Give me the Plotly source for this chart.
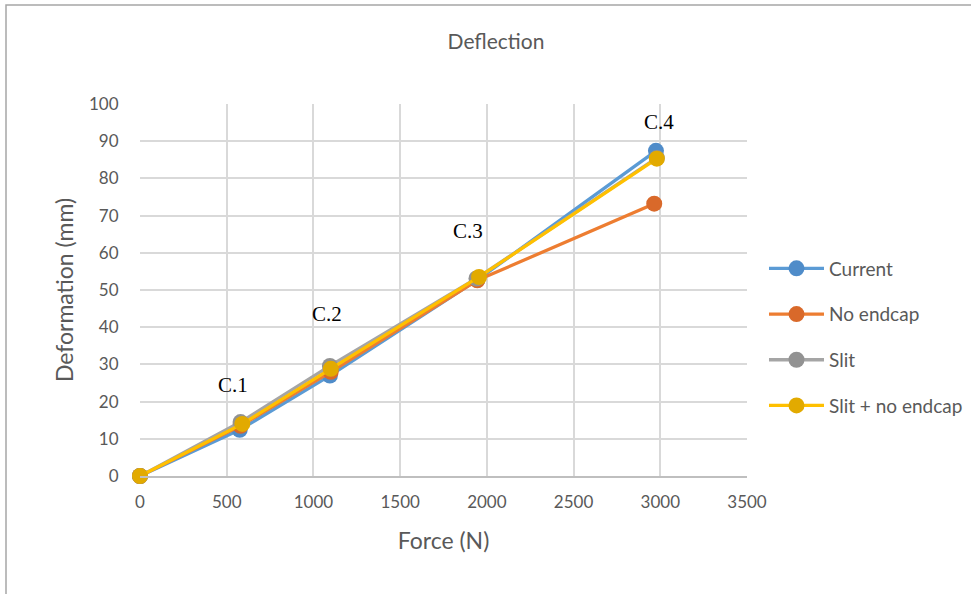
import plotly.graph_objects as go

# Load step force (N) and measured deformation (mm) per configuration
force_current = [0, 575, 1095, 1945, 2975]
defl_current = [0, 12.4, 27.0, 52.7, 87.4]

force_no_endcap = [0, 580, 1100, 1945, 2965]
defl_no_endcap = [0, 13.5, 28.0, 52.6, 73.2]

force_slit = [0, 580, 1095, 1940, 2980]
defl_slit = [0, 14.5, 29.6, 53.1, 85.5]

force_slit_no_endcap = [0, 590, 1100, 1955, 2980]
defl_slit_no_endcap = [0, 14.0, 28.8, 53.5, 85.3]

series_names = ["Current", "No endcap", "Slit", "Slit + no endcap"]
line_colors = ["#5b9bd5", "#ed7d31", "#a5a5a5", "#ffc000"]
marker_colors = ["#4f8cc9", "#d9692a", "#929292", "#e2aa00"]

# Case labels and their anchor positions (force, deformation)
case_labels = ["C.1", "C.2", "C.3", "C.4"]
case_x = [535, 1080, 1890, 2990]
case_y = [24.5, 43.5, 65.8, 95.1]

xs = [force_current, force_no_endcap, force_slit, force_slit_no_endcap]
ys = [defl_current, defl_no_endcap, defl_slit, defl_slit_no_endcap]

fig = go.Figure()
for i, name in enumerate(series_names):
    fig.add_trace(go.Scatter(
        x=xs[i], y=ys[i], name=name, mode="lines+markers",
        line=dict(color=line_colors[i], width=3.3),
        marker=dict(color=marker_colors[i], size=16),
        legendgroup=name, cliponaxis=False,
    ))

for lab, cx, cy in zip(case_labels, case_x, case_y):
    fig.add_annotation(x=cx, y=cy, text=lab, showarrow=False,
                       font=dict(family="Liberation Serif", size=21, color="#000000"))

fig.update_layout(
    width=971, height=594,
    paper_bgcolor="white", plot_bgcolor="white",
    margin=dict(l=140, r=224, t=104, b=118, autoexpand=False),
    font=dict(family="Lato", color="#595959"),
    title=dict(text="Deflection", x=496 / 971, xanchor="center",
               y=1 - 42 / 594, yanchor="middle",
               font=dict(size=21, color="#595959")),
    legend=dict(x=1.028, y=(476 - 337) / 372, xanchor="left", yanchor="middle",
                font=dict(size=19, color="#595959"), tracegroupgap=18,
                itemwidth=55, bgcolor="rgba(0,0,0,0)"),
    showlegend=True,
)

fig.update_xaxes(range=[0, 3500], dtick=500, tick0=0,
                 showgrid=True, gridcolor="#d9d9d9", gridwidth=1.5,
                 zeroline=False, showline=True, linecolor="#bfbfbf", linewidth=1.5,
                 ticks="outside", ticklen=10, tickcolor="rgba(0,0,0,0)",
                 tickfont=dict(size=17, color="#595959"),
                 title=dict(text="Force (N)", font=dict(size=23, color="#595959"), standoff=22),
                 mirror=False)
fig.update_yaxes(range=[0, 100], dtick=10, tick0=0,
                 showgrid=True, gridcolor="#d9d9d9", gridwidth=1.5,
                 zeroline=False, showline=False,
                 ticks="outside", ticklen=17, tickcolor="rgba(0,0,0,0)",
                 tickfont=dict(size=17, color="#595959"),
                 title=dict(text="Deformation (mm)", font=dict(size=23, color="#595959"), standoff=8))

# Outer chart frame
fig.add_shape(type="rect", xref="paper", yref="paper",
              x0=(6 - 140) / 607, x1=(980 - 140) / 607,
              y0=(476 - 610) / 372, y1=(476 - 5) / 372,
              line=dict(color="#a6a6a6", width=1.5), layer="below")

fig.write_html("out.html")
